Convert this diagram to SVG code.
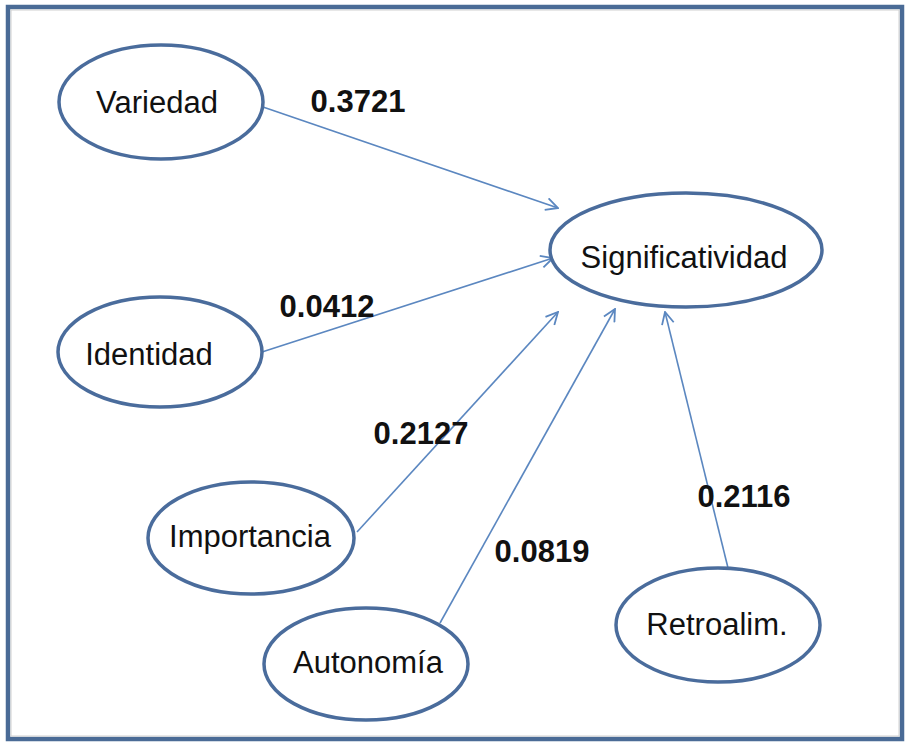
<svg xmlns="http://www.w3.org/2000/svg" width="906" height="742" viewBox="0 0 906 742">
<style>
.node ellipse{fill:#fff;stroke:#4a6c9c;stroke-width:3.5}
.node text{font-family:"Liberation Sans",Arial,sans-serif;font-size:31px;fill:#111;text-anchor:middle}
.lbl{font-family:"Liberation Sans",Arial,sans-serif;font-size:31px;font-weight:bold;fill:#111;text-anchor:middle}
.conn line{stroke:#5b87c0;stroke-width:1.6;fill:none}
</style>
<defs>
<marker id="arr" markerUnits="userSpaceOnUse" viewBox="0 0 14 14" refX="13" refY="7" markerWidth="14" markerHeight="14" orient="auto">
<path d="M1,1 L13,7 L1,13" fill="none" stroke="#5b87c0" stroke-width="1.8"/>
</marker>
</defs>
<rect x="0" y="0" width="906" height="742" fill="#fff"/>
<rect x="8" y="7" width="894" height="732" fill="#fff" stroke="#4a6b96" stroke-width="4.5"/>
<rect x="11" y="10" width="888" height="726" fill="none" stroke="#d0d0d0" stroke-width="1"/>
<g class="conn">
<line x1="263" y1="107" x2="558" y2="208" marker-end="url(#arr)"/>
<line x1="262" y1="352" x2="553" y2="258" marker-end="url(#arr)"/>
<line x1="357" y1="532" x2="558" y2="312" marker-end="url(#arr)"/>
<line x1="440" y1="623" x2="615" y2="309" marker-end="url(#arr)"/>
<line x1="728" y1="568" x2="665" y2="312" marker-end="url(#arr)"/>
</g>
<g id="variedad" class="node"><ellipse cx="161" cy="102" rx="102" ry="57"/><text x="157" y="113">Variedad</text></g>
<g id="identidad" class="node"><ellipse cx="160" cy="352" rx="102" ry="55"/><text x="149" y="365">Identidad</text></g>
<g id="significatividad" class="node"><ellipse cx="686" cy="250" rx="136" ry="57"/><text x="684" y="268">Significatividad</text></g>
<g id="importancia" class="node"><ellipse cx="251" cy="538" rx="103" ry="56"/><text x="250" y="547">Importancia</text></g>
<g id="autonomia" class="node"><ellipse cx="366" cy="664" rx="102" ry="56"/><text x="368" y="673">Autonomía</text></g>
<g id="retroalim" class="node"><ellipse cx="718" cy="625" rx="102" ry="57"/><text x="717" y="635">Retroalim.</text></g>
<g id="labels">
<text class="lbl" x="358" y="112">0.3721</text>
<text class="lbl" x="327" y="317">0.0412</text>
<text class="lbl" x="421" y="444">0.2127</text>
<text class="lbl" x="542" y="562">0.0819</text>
<text class="lbl" x="744" y="507">0.2116</text>
</g>
</svg>
